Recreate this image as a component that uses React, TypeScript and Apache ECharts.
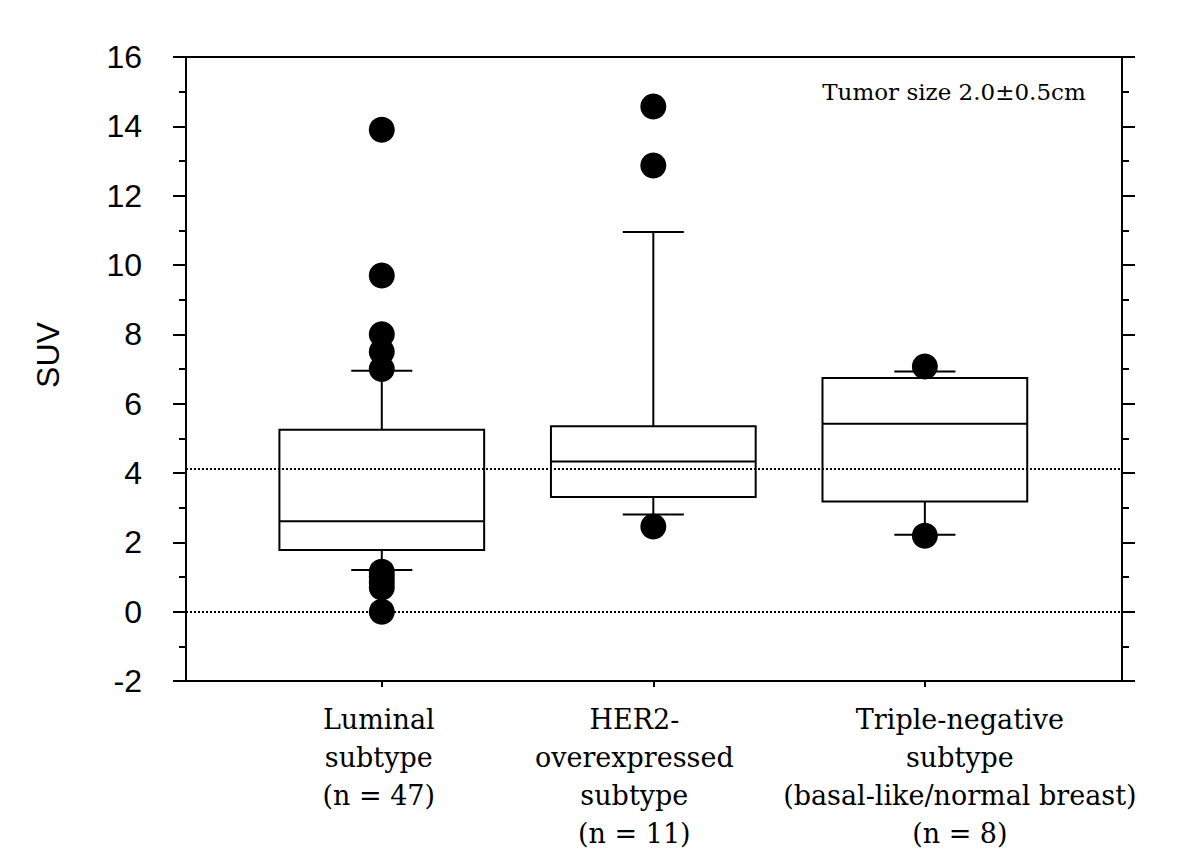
import React, { useEffect, useRef } from "react";
import * as echarts from "echarts";

const categories = [
  "Luminal\nsubtype\n(n = 47)",
  "HER2-\noverexpressed\nsubtype\n(n = 11)",
  "Triple-negative\nsubtype\n(basal-like/normal breast)\n(n = 8)",
];
const positions = [1, 2, 3];
const lowerWhisker = [1.2, 2.8, 2.22];
const q1 = [1.78, 3.31, 3.18];
const median = [2.61, 4.33, 5.42];
const q3 = [5.25, 5.35, 6.74];
const upperWhisker = [6.95, 10.95, 6.93];
const outliersLuminal = [13.9, 9.7, 8.0, 7.5, 7.0, 1.15, 1.0, 0.85, 0.7, 0.0];
const outliersHER2 = [14.57, 12.87, 2.46];
const outliersTriple = [7.07, 2.19];
const referenceLines = [0, 4.12];
const yTicks = { min: -2, max: 16, interval: 2 };
const annotation = "Tumor size 2.0±0.5cm";
const yAxisTitle = "SUV";

// layout
const X_MIN = 0.279;
const X_MAX = 3.726;
const GRID = { left: 186, right: 78, top: 57, bottom: 185 };
const labelShiftPx = [-3, -19, 35];

export default function App() {
  const ref = useRef<HTMLDivElement>(null);
  useEffect(() => {
    if (!ref.current) return;
    const chart = echarts.init(ref.current, null, { renderer: "svg" });
    const pxPerUnit = (1200 - GRID.left - GRID.right) / (X_MAX - X_MIN);
    const labelValues = positions.map((p, i) => p + labelShiftPx[i] / pxPerUnit);
    const boxData = positions.map((p, i) => [p, lowerWhisker[i], q1[i], median[i], q3[i], upperWhisker[i]]);
    const outlierData: number[][] = [];
    [outliersLuminal, outliersHER2, outliersTriple].forEach((arr, i) =>
      arr.forEach((v) => outlierData.push([positions[i], v]))
    );
    const axisStyle = { color: "#000", width: 2 };
    const yAxisBase = {
      type: "value",
      min: yTicks.min,
      max: yTicks.max,
      interval: yTicks.interval,
      splitLine: { show: false },
      axisLine: { show: true, lineStyle: axisStyle },
      axisTick: { show: true, length: 13, lineStyle: axisStyle },
      minorTick: { show: true, splitNumber: 2, length: 7, lineStyle: axisStyle },
    };
    chart.setOption({
      animation: false,
      backgroundColor: "#fff",
      grid: GRID,
      xAxis: [
        {
          type: "value",
          min: X_MIN,
          max: X_MAX,
          position: "bottom",
          splitLine: { show: false },
          axisLine: { show: true, onZero: false, lineStyle: axisStyle },
          axisTick: { show: true, length: 6, customValues: positions, lineStyle: axisStyle },
          axisLabel: {
            show: true,
            customValues: labelValues,
            showMinLabel: true,
            showMaxLabel: true,
            hideOverlap: false,
            formatter: (v: number) => categories[Math.round(v) - 1] ?? "",
            fontFamily: "DejaVu Serif",
            fontSize: 27,
            lineHeight: 38,
            color: "#000",
            margin: 19,
            align: "center",
          },
        },
        {
          type: "value",
          min: X_MIN,
          max: X_MAX,
          position: "top",
          splitLine: { show: false },
          axisLine: { show: true, onZero: false, lineStyle: axisStyle },
          axisTick: { show: false },
          axisLabel: { show: false },
        },
      ],
      yAxis: [
        {
          ...yAxisBase,
          position: "left",
          axisLabel: {
            color: "#000",
            fontFamily: "Liberation Sans",
            fontSize: 32,
            margin: 44,
          },
        },
        {
          ...yAxisBase,
          position: "right",
          axisLabel: { show: false },
        },
      ],
      graphic: [
        {
          type: "text",
          x: 48,
          y: 355,
          rotation: Math.PI / 2,
          style: {
            text: yAxisTitle,
            fontFamily: "Liberation Sans",
            fontSize: 32,
            fill: "#000",
            textAlign: "center",
            textVerticalAlign: "middle",
          },
        },
        {
          type: "text",
          x: 954,
          y: 92,
          style: {
            text: annotation,
            fontFamily: "DejaVu Serif",
            fontSize: 23,
            fill: "#000",
            textAlign: "center",
            textVerticalAlign: "middle",
          },
        },
      ],
      series: [
        {
          type: "custom",
          xAxisIndex: 0,
          yAxisIndex: 0,
          data: boxData,
          z: 2,
          renderItem: (params: any, api: any) => {
            const x = api.value(0);
            const lw = api.value(1);
            const b1 = api.value(2);
            const md = api.value(3);
            const b3 = api.value(4);
            const uw = api.value(5);
            const boxW = api.size([0.754, 0])[0];
            const capW = api.size([0.225, 0])[0];
            const [cx, yLw] = api.coord([x, lw]);
            const yQ1 = api.coord([x, b1])[1];
            const yMd = api.coord([x, md])[1];
            const yQ3 = api.coord([x, b3])[1];
            const yUw = api.coord([x, uw])[1];
            const ls = { stroke: "#000", lineWidth: 2, fill: "none" };
            return {
              type: "group",
              children: [
                { type: "line", shape: { x1: cx, y1: yQ3, x2: cx, y2: yUw }, style: ls },
                { type: "line", shape: { x1: cx, y1: yQ1, x2: cx, y2: yLw }, style: ls },
                { type: "line", shape: { x1: cx - capW / 2, y1: yUw, x2: cx + capW / 2, y2: yUw }, style: ls },
                { type: "line", shape: { x1: cx - capW / 2, y1: yLw, x2: cx + capW / 2, y2: yLw }, style: ls },
                {
                  type: "rect",
                  shape: { x: cx - boxW / 2, y: yQ3, width: boxW, height: yQ1 - yQ3 },
                  style: { stroke: "#000", lineWidth: 2, fill: "none" },
                },
                { type: "line", shape: { x1: cx - boxW / 2, y1: yMd, x2: cx + boxW / 2, y2: yMd }, style: ls },
              ],
            };
          },
        },
        {
          type: "scatter",
          xAxisIndex: 0,
          yAxisIndex: 0,
          data: outlierData,
          symbol: "circle",
          symbolSize: 26,
          itemStyle: { color: "#000", opacity: 1 },
          z: 3,
          markLine: {
            silent: true,
            symbol: "none",
            label: { show: false },
            lineStyle: { color: "#000", type: "dotted", width: 2, opacity: 1 },
            data: referenceLines.map((v) => ({ yAxis: v })),
          },
        },
      ],
    });
    return () => chart.dispose();
  }, []);
  return (
    <div
      ref={ref}
      style={{ position: "absolute", left: 0, top: 0, width: 1200, height: 866 }}
    />
  );
}
